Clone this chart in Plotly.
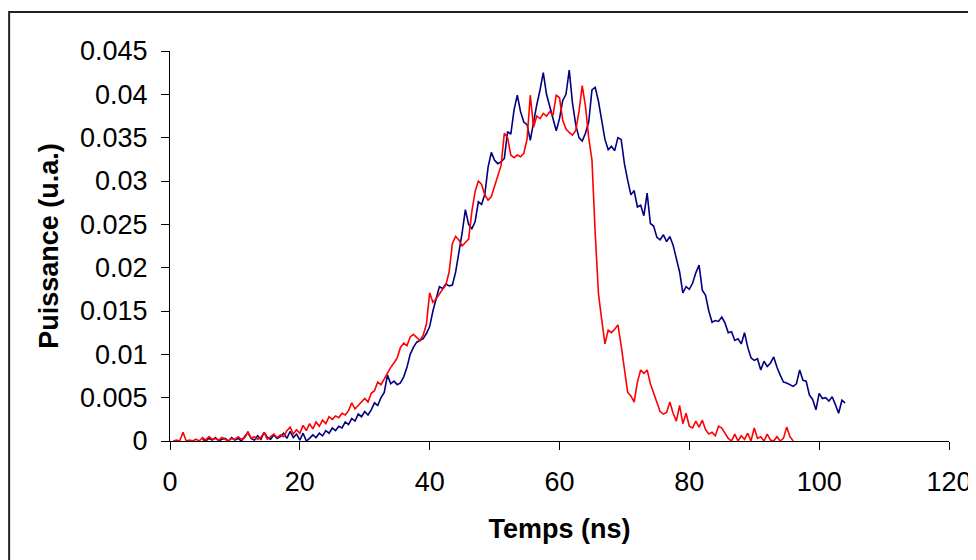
import plotly.graph_objects as go

# Blue trace: sampled every 0.5 ns starting at 5 ns
blue_t0 = 5.0
blue_dt = 0.5
blue_vals = [
    0.0002, 0.0000, 0.0003, 0.0001, 0.0004, 0.0000, 0.0002, 0.0003, 0.0000, 0.0004,  # 5-9.5
    0.0001, 0.0003, 0.0000, 0.0005, 0.0010, 0.0003, 0.0001, 0.0006, 0.0002, 0.0010,  # 10-14.5
    0.0004, 0.0002, 0.0007, 0.0003, 0.0005, 0.0009, 0.0003, 0.0011, 0.0004, 0.0008,  # 15-19.5
    0.0001, 0.0009, 0.0000, 0.0003, 0.0007, 0.0004, 0.0009, 0.0006, 0.0012, 0.0009,  # 20-24.5
    0.0015, 0.0012, 0.0017, 0.0015, 0.0022, 0.0019, 0.0026, 0.0023, 0.0031, 0.0028,  # 25-29.5
    0.0034, 0.0030, 0.0036, 0.0044, 0.0041, 0.0050, 0.0056, 0.0076, 0.0066, 0.0069,  # 30-34.5
    0.0065, 0.0067, 0.0074, 0.0085, 0.0100, 0.0108, 0.0114, 0.0116, 0.0118, 0.0124,  # 35-39.5
    0.0132, 0.0150, 0.0165, 0.0178, 0.0176, 0.0181, 0.0179, 0.0180, 0.0195, 0.0217,  # 40-44.5
    0.0240, 0.0267, 0.0250, 0.0245, 0.0253, 0.0276, 0.0273, 0.0285, 0.0316, 0.0333,  # 45-49.5
    0.0324, 0.0320, 0.0322, 0.0326, 0.0357, 0.0354, 0.0382, 0.0399, 0.0380, 0.0368,  # 50-54.5
    0.0365, 0.0347, 0.0370, 0.0388, 0.0405, 0.0425, 0.0400, 0.0385, 0.0370, 0.0358,  # 55-59.5
    0.0372, 0.0393, 0.0400, 0.0428, 0.0390, 0.0365, 0.0350, 0.0346, 0.0355, 0.0368,  # 60-64.5
    0.0405, 0.0408, 0.0392, 0.0370, 0.0348, 0.0336, 0.0340, 0.0335, 0.0350, 0.0348,  # 65-69.5
    0.0320, 0.0301, 0.0284, 0.0289, 0.0270, 0.0272, 0.0260, 0.0286, 0.0251, 0.0248,  # 70-74.5
    0.0235, 0.0232, 0.0238, 0.0230, 0.0236, 0.0226, 0.0212, 0.0195, 0.0171, 0.0178,  # 75-79.5
    0.0175, 0.0182, 0.0194, 0.0203, 0.0174, 0.0168, 0.0150, 0.0137, 0.0139, 0.0138,  # 80-84.5
    0.0143, 0.0136, 0.0125, 0.0126, 0.0116, 0.0118, 0.0112, 0.0125, 0.0108, 0.0096,  # 85-89.5
    0.0093, 0.0095, 0.0082, 0.0092, 0.0086, 0.0090, 0.0097, 0.0085, 0.0076, 0.0068,  # 90-94.5
    0.0067, 0.0065, 0.0063, 0.0066, 0.0082, 0.0070, 0.0069, 0.0053, 0.0048, 0.0036,  # 95-99.5
    0.0055, 0.0049, 0.0050, 0.0046, 0.0051, 0.0042, 0.0032, 0.0047, 0.0044,          # 100-104
]

# Red trace: sampled every 0.5 ns starting at 0.5 ns
red_t0 = 0.5
red_dt = 0.5
red_vals = [
    0.0000, 0.0001, 0.0000, 0.0010, 0.0000, 0.0001, 0.0000, 0.0002, 0.0000,          # 0.5-4.5
    0.0004, 0.0001, 0.0005, 0.0002, 0.0003, 0.0001, 0.0004, 0.0002, 0.0000, 0.0003,  # 5-9.5
    0.0002, 0.0005, 0.0002, 0.0004, 0.0010, 0.0003, 0.0005, 0.0002, 0.0004, 0.0010,  # 10-14.5
    0.0002, 0.0005, 0.0008, 0.0004, 0.0007, 0.0005, 0.0012, 0.0016, 0.0008, 0.0013,  # 15-19.5
    0.0009, 0.0018, 0.0012, 0.0020, 0.0014, 0.0022, 0.0017, 0.0024, 0.0020, 0.0028,  # 20-24.5
    0.0025, 0.0029, 0.0027, 0.0032, 0.0030, 0.0035, 0.0044, 0.0037, 0.0041, 0.0046,  # 25-29.5
    0.0049, 0.0045, 0.0055, 0.0058, 0.0068, 0.0065, 0.0072, 0.0078, 0.0085, 0.0090,  # 30-34.5
    0.0096, 0.0108, 0.0113, 0.0110, 0.0120, 0.0123, 0.0119, 0.0116, 0.0122, 0.0135,  # 35-39.5
    0.0171, 0.0160, 0.0164, 0.0170, 0.0175, 0.0180, 0.0195, 0.0228, 0.0236, 0.0232,  # 40-44.5
    0.0225, 0.0229, 0.0233, 0.0265, 0.0288, 0.0300, 0.0296, 0.0284, 0.0278, 0.0282,  # 45-49.5
    0.0295, 0.0305, 0.0318, 0.0355, 0.0350, 0.0330, 0.0327, 0.0330, 0.0328, 0.0332,  # 50-54.5
    0.0348, 0.0399, 0.0362, 0.0375, 0.0372, 0.0378, 0.0375, 0.0380, 0.0376, 0.0399,  # 55-59.5
    0.0396, 0.0370, 0.0360, 0.0356, 0.0353, 0.0358, 0.0380, 0.0410, 0.0386, 0.0350,  # 60-64.5
    0.0324, 0.0240, 0.0170, 0.0140, 0.0112, 0.0128, 0.0125, 0.0129, 0.0134, 0.0110,  # 65-69.5
    0.0080, 0.0056, 0.0052, 0.0045, 0.0068, 0.0082, 0.0078, 0.0082, 0.0066, 0.0055,  # 70-74.5
    0.0044, 0.0034, 0.0031, 0.0033, 0.0045, 0.0032, 0.0023, 0.0041, 0.0020, 0.0032,  # 75-79.5
    0.0017, 0.0015, 0.0023, 0.0016, 0.0024, 0.0013, 0.0008, 0.0010, 0.0006, 0.0017,  # 80-84.5
    0.0015, 0.0009, 0.0003, 0.0000, 0.0008, 0.0000, 0.0006, 0.0002, 0.0009, 0.0000,  # 85-89.5
    0.0015, 0.0003, 0.0005, 0.0000, 0.0008, 0.0001, 0.0000, 0.0005, 0.0000, 0.0003,  # 90-94.5
    0.0016, 0.0005, 0.0000,                                                          # 95-96
]

x_ticks = [0, 20, 40, 60, 80, 100, 120]
y_ticks = [0, 0.005, 0.01, 0.015, 0.02, 0.025, 0.03, 0.035, 0.04, 0.045]
y_ticktext = ["0", "0.005", "0.01", "0.015", "0.02", "0.025", "0.03", "0.035", "0.04", "0.045"]

blue_t = [blue_t0 + blue_dt * i for i in range(len(blue_vals))]
red_t = [red_t0 + red_dt * i for i in range(len(red_vals))]

fig = go.Figure()
fig.add_trace(go.Scatter(x=blue_t, y=blue_vals, mode="lines",
                         line=dict(color="#000080", width=1.6), showlegend=False))
fig.add_trace(go.Scatter(x=red_t, y=red_vals, mode="lines",
                         line=dict(color="#FF0000", width=1.6), showlegend=False))

font_family = "Liberation Sans, Arial, sans-serif"
fig.update_layout(
    width=968, height=552,
    margin=dict(l=162, r=26.5, t=43, b=119, autoexpand=False),
    paper_bgcolor="white", plot_bgcolor="white",
    font=dict(family=font_family, size=27, color="black"),
)
fig.update_xaxes(
    range=[0, 120], tickvals=x_ticks, ticks="outside", ticklen=8, tickwidth=1,
    tickcolor="black", showline=True, linecolor="black", linewidth=1,
    showgrid=False, zeroline=False, ticklabelstandoff=9, automargin=False,
    title=dict(text="<b>Temps (ns)</b>", font=dict(size=27), standoff=22),
)
fig.update_yaxes(
    range=[0, 0.045], tickvals=y_ticks, ticktext=y_ticktext, ticks="outside",
    ticklen=8, tickwidth=1, tickcolor="black", showline=True, linecolor="black",
    linewidth=1, showgrid=False, zeroline=False, ticklabelstandoff=8, automargin=False,
    title=dict(text="<b>Puissance (u.a.)</b>", font=dict(size=27), standoff=13),
)
# outer chart frame (only top and left edges visible in the window)
fig.add_shape(type="rect", xref="paper", yref="paper",
              x0=-0.2065, x1=1.2, y0=-0.5, y1=1.1,
              line=dict(color="#222222", width=2), layer="below")

fig.write_html("out.html")
